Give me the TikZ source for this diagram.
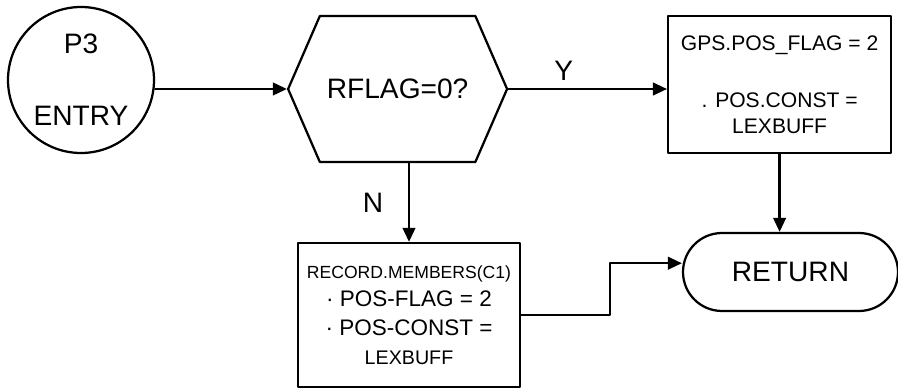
\documentclass[tikz,border=0pt]{standalone}
\usepackage{fontspec}
\setmainfont{Liberation Sans}
\usetikzlibrary{arrows.meta,shapes.symbols,shapes.misc}

\tikzset{
  khoi/.style={draw, rectangle, inner sep=0pt, align=center},
  chu lon/.style={font=\fontsize{20}{24}\selectfont},
}

\begin{document}
\begin{tikzpicture}[>={Triangle[length=10pt,width=9pt]}, line width=1.6pt, line join=round, line cap=round, chu lon]
	% --- Khung hình ---
	\def\xmax{22.45} \def\ymax{9.725}
	\useasboundingbox (0,0) rectangle (\xmax,\ymax);
	
	% --- Các khối ---
	\node[draw, circle, minimum size=3.65cm, inner sep=0pt, align=center] (entry) at (2.025,7.725) {P3\\[0.95cm]ENTRY};
	\node[draw, signal, signal to=west and east, signal pointer angle=133, minimum width=5.475cm, minimum height=3.65cm, inner sep=0pt] (rflag) at (9.94,7.5) {RFLAG=0?};
	\node[khoi, minimum width=5.575cm, minimum height=3.425cm, font=\fontsize{15}{18}\selectfont] (gps) at (19.49,7.6125) {GPS.POS\_FLAG = 2\\[0.8cm]. POS.CONST =\\LEXBUFF};
	\node[khoi, minimum width=5.55cm, minimum height=3.6cm, font=\fontsize{16}{20.5}\selectfont] (rec) at (10.225,1.85) {{\fontsize{12.5}{14}\selectfont RECORD.MEMBERS(C1)}\\· POS-FLAG = 2\\· POS-CONST =\\{\fontsize{14}{16}\selectfont LEXBUFF}};
	\node[draw, rounded rectangle, minimum width=5.375cm, minimum height=1.95cm, inner sep=0pt] (ret) at (19.7625,2.925) {RETURN};
	\coordinate (gap) at (15.25,0);
	
	% --- Các mũi tên ---
	\draw[->] (entry.east |- rflag.west) -- (rflag.west);
	\draw[->] (rflag.east) -- (rflag.east -| gps.west) node[pos=0.35, above=2pt] {Y};
	\draw[->] (rflag.south -| rec.north) -- (rec.north) node[midway, left=0.5cm] {N};
	\draw[->] (gps.south) -- (gps.south |- ret.north);
	\draw[->] (rec.east) -- (rec.east -| gap) |- ([yshift=0.22cm]ret.west);
\end{tikzpicture}
\end{document}
